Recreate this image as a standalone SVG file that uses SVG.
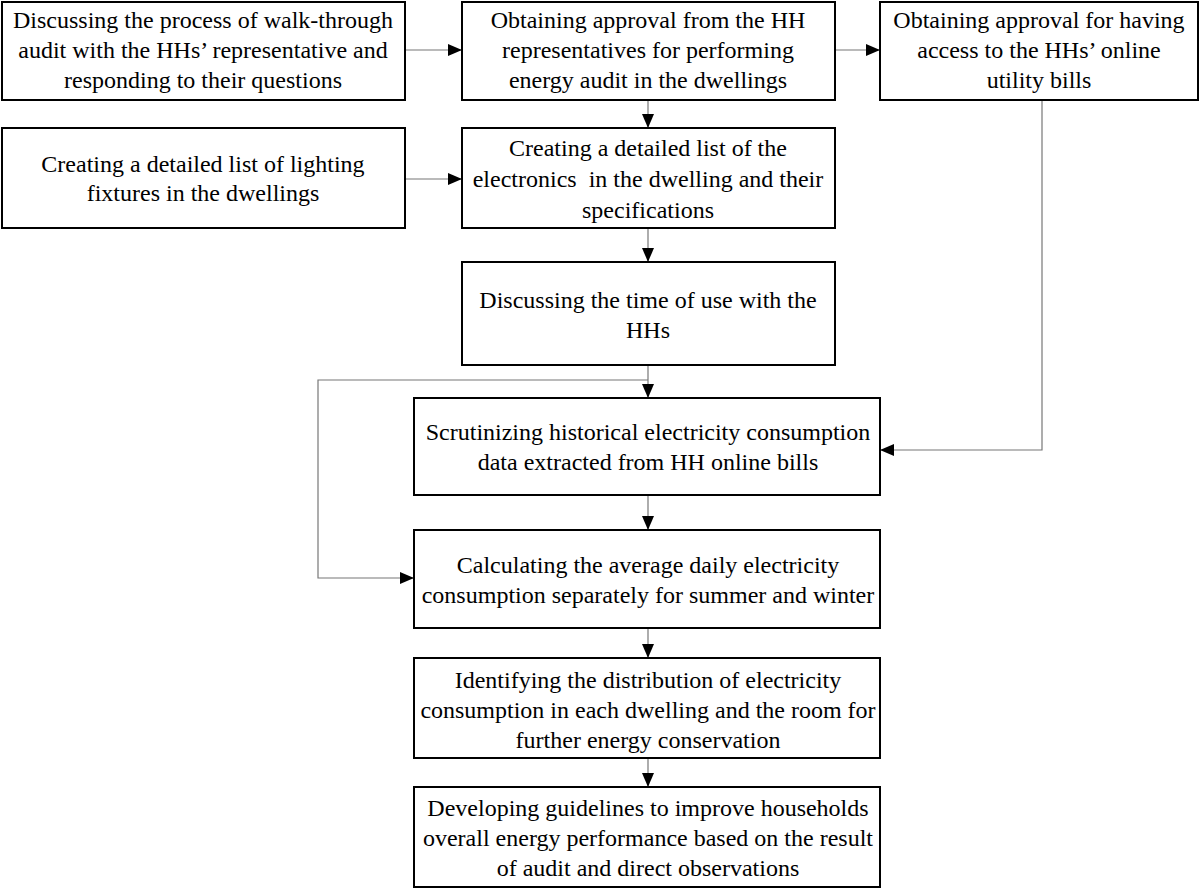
<svg xmlns="http://www.w3.org/2000/svg" width="1200" height="889" viewBox="0 0 1200 889">
<defs>
<marker id="ah" markerWidth="14" markerHeight="12" refX="14" refY="6" orient="auto" markerUnits="userSpaceOnUse">
<path d="M0,0 L14,6 L0,12 Z" fill="#000"/>
</marker>
<style>
.box{fill:#fff;stroke:#000;stroke-width:2}
.t{font-family:"Liberation Serif","Times New Roman",serif;font-size:24px;fill:#000;text-anchor:middle}
.c{fill:none;stroke:#777;stroke-width:1.2}
</style>
</defs>
<rect width="1200" height="889" fill="#fff"/>
<g id="connectors">
<path class="c" d="M405,50 H462" marker-end="url(#ah)"/>
<path class="c" d="M835,50 H880" marker-end="url(#ah)"/>
<path class="c" d="M405,179 H462" marker-end="url(#ah)"/>
<path class="c" d="M648,100 V128" marker-end="url(#ah)"/>
<path class="c" d="M648,228 V262" marker-end="url(#ah)"/>
<path class="c" d="M648,365 V398" marker-end="url(#ah)"/>
<path class="c" d="M648,380 H318 V578 H414" marker-end="url(#ah)"/>
<path class="c" d="M1042,100 V450 H880" marker-end="url(#ah)"/>
<path class="c" d="M648,495 V530" marker-end="url(#ah)"/>
<path class="c" d="M648,628 V658" marker-end="url(#ah)"/>
<path class="c" d="M648,758 V787" marker-end="url(#ah)"/>
</g>
<g id="n1"><rect class="box" x="2" y="2" width="403" height="98"/>
<text class="t" x="203" y="28">Discussing the process of walk-through</text>
<text class="t" x="203" y="58">audit with the HHs’ representative and</text>
<text class="t" x="203" y="88">responding to their questions</text></g>
<g id="n2"><rect class="box" x="462" y="2" width="373" height="98"/>
<text class="t" x="648" y="28">Obtaining approval from the HH</text>
<text class="t" x="648" y="58">representatives for performing</text>
<text class="t" x="648" y="88">energy audit in the dwellings</text></g>
<g id="n3"><rect class="box" x="880" y="2" width="318" height="98"/>
<text class="t" x="1039" y="28">Obtaining approval for having</text>
<text class="t" x="1039" y="58">access to the HHs’ online</text>
<text class="t" x="1039" y="88">utility bills</text></g>
<g id="n4"><rect class="box" x="2" y="128" width="403" height="100"/>
<text class="t" x="203" y="172">Creating a detailed list of lighting</text>
<text class="t" x="203" y="201">fixtures in the dwellings</text></g>
<g id="n5"><rect class="box" x="462" y="128" width="373" height="100"/>
<text class="t" x="648" y="156">Creating a detailed list of the</text>
<text class="t" x="648" y="187" xml:space="preserve">electronics  in the dwelling and their</text>
<text class="t" x="648" y="218">specifications</text></g>
<g id="n6"><rect class="box" x="462" y="262" width="373" height="103"/>
<text class="t" x="648" y="308">Discussing the time of use with the</text>
<text class="t" x="648" y="338">HHs</text></g>
<g id="n7"><rect class="box" x="414" y="398" width="466" height="97"/>
<text class="t" x="648" y="440">Scrutinizing historical electricity consumption</text>
<text class="t" x="648" y="470">data extracted from HH online bills</text></g>
<g id="n8"><rect class="box" x="414" y="530" width="466" height="98"/>
<text class="t" x="648" y="573">Calculating the average daily electricity</text>
<text class="t" x="648" y="603">consumption separately for summer and winter</text></g>
<g id="n9"><rect class="box" x="414" y="658" width="466" height="100"/>
<text class="t" x="648" y="688">Identifying the distribution of electricity</text>
<text class="t" x="648" y="718">consumption in each dwelling and the room for</text>
<text class="t" x="648" y="748">further energy conservation</text></g>
<g id="n10"><rect class="box" x="414" y="787" width="466" height="100"/>
<text class="t" x="648" y="816">Developing guidelines to improve households</text>
<text class="t" x="648" y="846">overall energy performance based on the result</text>
<text class="t" x="648" y="876">of audit and direct observations</text></g>
</svg>
